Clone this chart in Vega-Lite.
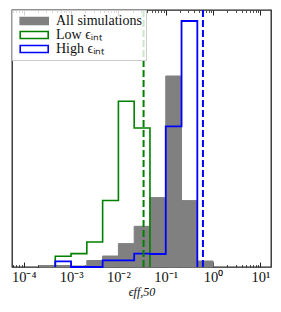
{
  "$schema": "https://vega.github.io/schema/vega-lite/v6.json",
  "width": 259,
  "height": 257,
  "autosize": {"type": "none"},
  "padding": {"left": 12, "top": 10, "right": 10, "bottom": 45},
  "background": "white",
  "config": {
    "view": {"stroke": "#222222", "strokeWidth": 1.3},
    "axis": {"grid": false, "domain": false, "tickColor": "#222222", "labelFont": "Liberation Serif", "titleFont": "Liberation Serif"}
  },
  "datasets": {
    "all": [
      {"series": "All simulations", "lo": 0.0002154, "hi": 0.0004642, "v": 1.5},
      {"series": "All simulations", "lo": 0.0004642, "hi": 0.001, "v": 1.5},
      {"series": "All simulations", "lo": 0.001, "hi": 0.002154, "v": 1},
      {"series": "All simulations", "lo": 0.002154, "hi": 0.004642, "v": 6.5},
      {"series": "All simulations", "lo": 0.004642, "hi": 0.01, "v": 11},
      {"series": "All simulations", "lo": 0.01, "hi": 0.02154, "v": 23.4},
      {"series": "All simulations", "lo": 0.02154, "hi": 0.04642, "v": 40.7},
      {"series": "All simulations", "lo": 0.04642, "hi": 0.1, "v": 69.4},
      {"series": "All simulations", "lo": 0.1, "hi": 0.2154, "v": 191},
      {"series": "All simulations", "lo": 0.2154, "hi": 0.4642, "v": 66.4},
      {"series": "All simulations", "lo": 0.4642, "hi": 1, "v": 6}
    ],
    "low": [
      {"e": 0.0004642, "v": 0},
      {"e": 0.0004642, "v": 10.7},
      {"e": 0.001, "v": 13.4},
      {"e": 0.002154, "v": 25},
      {"e": 0.004642, "v": 66.5},
      {"e": 0.01, "v": 165.7},
      {"e": 0.02154, "v": 139},
      {"e": 0.04642, "v": 0}
    ],
    "high": [
      {"e": 0.0004642, "v": 0},
      {"e": 0.0004642, "v": 5.7},
      {"e": 0.001, "v": 0},
      {"e": 0.004642, "v": 6.7},
      {"e": 0.01, "v": 6.7},
      {"e": 0.02154, "v": 13.4},
      {"e": 0.04642, "v": 13},
      {"e": 0.1, "v": 140.7},
      {"e": 0.2154, "v": 246},
      {"e": 0.4642, "v": 0}
    ],
    "medians": [
      {"series": "Low", "x": 0.034},
      {"series": "High", "x": 0.61}
    ]
  },
  "layer": [
    {
      "data": {"name": "all"},
      "mark": {"type": "rect"},
      "encoding": {
        "x": {"field": "lo", "type": "quantitative",
          "scale": {"type": "log", "domain": [0.0000566, 16.7], "nice": false},
          "axis": {"orient": "bottom", "values": [0.0001, 0.001, 0.01, 0.1, 1, 10], "tickSize": -5, "tickWidth": 1,
            "labelExpr": "['10⁻⁴','10⁻³','10⁻²','10⁻¹','10⁰','10¹'][round(log(datum.value)/LN10)+4]",
            "labelFontSize": 14.5, "labelColor": "#111111", "labelPadding": 8, "labelFlush": false,
            "title": "ϵff,50", "titleFontSize": 12, "titleFontWeight": "normal", "titleFontStyle": "italic", "titleColor": "#111111", "titlePadding": 3}},
        "x2": {"field": "hi"},
        "y": {"field": "v", "type": "quantitative", "scale": {"domain": [0, 257], "nice": false}, "axis": null},
        "y2": {"datum": 0},
        "fill": {"field": "series", "type": "nominal",
          "scale": {"domain": ["All simulations", "Low ϵᵢₙₜ", "High ϵᵢₙₜ"], "range": ["#808080", "rgba(255,255,255,0)", "rgba(255,255,255,0)"]},
          "legend": {"title": null, "orient": "top-left", "offset": 0, "padding": 4,
            "symbolType": "M-0.8,-1H7.2V1H-0.8Z", "symbolSize": 49, "symbolStrokeWidth": 1.6, "symbolOpacity": 1,
            "labelFont": "Liberation Serif", "labelFontSize": 14, "labelColor": "#111111", "labelOffset": 26, "rowPadding": 0,
            "fillColor": "rgba(255,255,255,0.8)", "strokeColor": "#cccccc", "cornerRadius": 0}},
        "stroke": {"field": "series", "type": "nominal",
          "scale": {"domain": ["All simulations", "Low ϵᵢₙₜ", "High ϵᵢₙₜ"], "range": ["#808080", "#008000", "#0000ff"]},
          "legend": {"title": null, "orient": "top-left", "offset": 0, "padding": 4,
            "symbolType": "M-0.8,-1H7.2V1H-0.8Z", "symbolSize": 49, "symbolStrokeWidth": 1.6, "symbolOpacity": 1,
            "labelFont": "Liberation Serif", "labelFontSize": 14, "labelColor": "#111111", "labelOffset": 26, "rowPadding": 0,
            "fillColor": "rgba(255,255,255,0.8)", "strokeColor": "#cccccc", "cornerRadius": 0}}
      }
    },
    {
      "data": {"name": "low"},
      "mark": {"type": "line", "interpolate": "step-after", "color": "#008000", "strokeWidth": 1.6},
      "encoding": {
        "x": {"field": "e", "type": "quantitative",
          "scale": {"type": "log", "domain": [0.0000566, 16.7], "nice": false},
          "axis": {"orient": "bottom", "labels": false, "title": null, "tickSize": -2.5, "tickWidth": 0.8,
            "values": [0.00006, 0.00007, 0.00008, 0.00009, 0.0002, 0.0003, 0.0004, 0.0005, 0.0006, 0.0007, 0.0008, 0.0009, 0.002, 0.003, 0.004, 0.005, 0.006, 0.007, 0.008, 0.009, 0.02, 0.03, 0.04, 0.05, 0.06, 0.07, 0.08, 0.09, 0.2, 0.3, 0.4, 0.5, 0.6, 0.7, 0.8, 0.9, 2, 3, 4, 5, 6, 7, 8, 9]}},
        "y": {"field": "v", "type": "quantitative", "scale": {"domain": [0, 257], "nice": false}, "axis": null}
      }
    },
    {
      "data": {"name": "high"},
      "mark": {"type": "line", "interpolate": "step-after", "color": "#0000ff", "strokeWidth": 1.8},
      "encoding": {
        "x": {"field": "e", "type": "quantitative",
          "scale": {"type": "log", "domain": [0.0000566, 16.7], "nice": false},
          "axis": {"orient": "top", "labels": false, "title": null, "tickSize": -5, "tickWidth": 1,
            "values": [0.0001, 0.001, 0.01, 0.1, 1, 10]}},
        "y": {"field": "v", "type": "quantitative", "scale": {"domain": [0, 257], "nice": false}, "axis": null}
      }
    },
    {
      "data": {"name": "medians"},
      "mark": {"type": "rule", "strokeDash": [7, 3], "strokeWidth": 2},
      "encoding": {
        "x": {"field": "x", "type": "quantitative",
          "scale": {"type": "log", "domain": [0.0000566, 16.7], "nice": false},
          "axis": {"orient": "top", "labels": false, "title": null, "tickSize": -2.5, "tickWidth": 0.8,
            "values": [0.00006, 0.00007, 0.00008, 0.00009, 0.0002, 0.0003, 0.0004, 0.0005, 0.0006, 0.0007, 0.0008, 0.0009, 0.002, 0.003, 0.004, 0.005, 0.006, 0.007, 0.008, 0.009, 0.02, 0.03, 0.04, 0.05, 0.06, 0.07, 0.08, 0.09, 0.2, 0.3, 0.4, 0.5, 0.6, 0.7, 0.8, 0.9, 2, 3, 4, 5, 6, 7, 8, 9]}},
        "color": {"field": "series", "type": "nominal", "scale": {"domain": ["Low", "High"], "range": ["#008000", "#0000ff"]}, "legend": null}
      }
    }
  ],
  "resolve": {"axis": {"x": "independent"}}
}
